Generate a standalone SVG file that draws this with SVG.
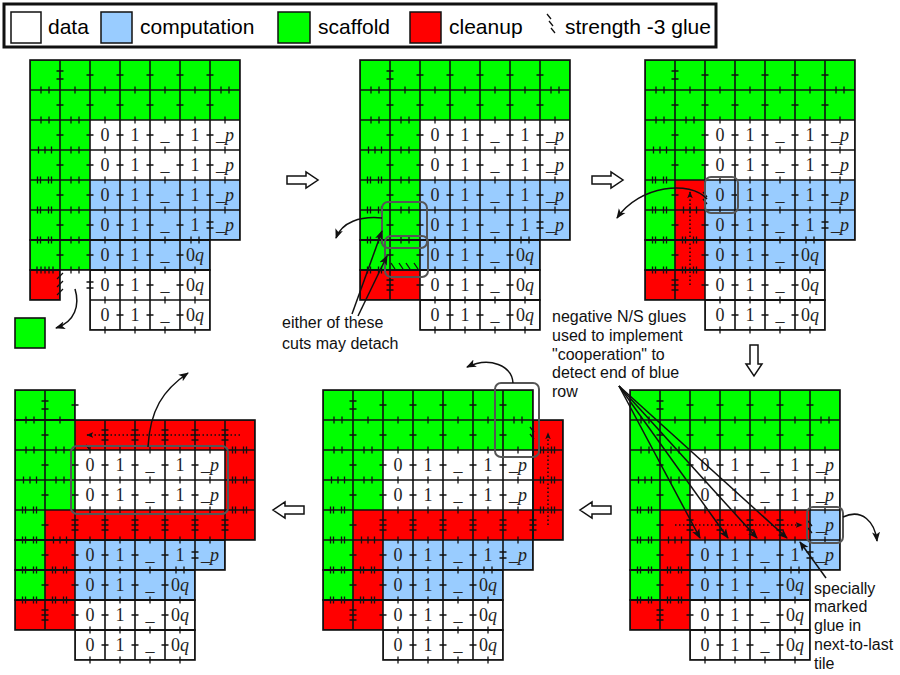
<svg xmlns="http://www.w3.org/2000/svg" width="900" height="675" viewBox="0 0 900 675">
<style>
.g{fill:#00ff00}.b{fill:#99ccff}.r{fill:#ff0000}.w{fill:#ffffff}
.u{fill:url(#gp);stroke:#111;stroke-width:1.6}
.tk{fill:none;stroke:#111;stroke-width:1.3}
.lab{font-family:"Liberation Serif","DejaVu Serif",serif;font-size:18px;text-anchor:middle;fill:#222}
.it{font-style:italic}
.cap{font-family:"Liberation Sans",Arial,sans-serif;font-size:16px;fill:#111}
.leg{font-family:"Liberation Sans",Arial,sans-serif;font-size:21px;fill:#000}
.arr{fill:none;stroke:#111;stroke-width:1.5}
.dot{fill:none;stroke:#111;stroke-width:1.6;stroke-dasharray:1.5 2.5}
.sel{fill:none;stroke:#555;stroke-width:2}
.blk{fill:#fff;stroke:#111;stroke-width:1.5}
.sq{stroke:#111;stroke-width:1.5}
</style>
<defs>
<pattern id="gp" width="30" height="30" patternUnits="userSpaceOnUse"><path d="M0 0H30V30H0Z" fill="none" stroke="#111" stroke-width="1.6"/></pattern>
<marker id="ah" viewBox="0 0 10 10" refX="9" refY="5" markerWidth="10" markerHeight="10" markerUnits="userSpaceOnUse" orient="auto"><path d="M0 1L10 5L0 9L2.5 5Z" fill="#111"/></marker>
<marker id="ahs" viewBox="0 0 10 10" refX="9" refY="5" markerWidth="7" markerHeight="7" markerUnits="userSpaceOnUse" orient="auto"><path d="M0 1L10 5L0 9L2.5 5Z" fill="#111"/></marker>
<path id="blockArrow" d="M0 -4H19V-8L31 0L19 8V4H0Z"/>
<path id="tkTL" d="M26.5 11h7M26.5 19h7M26.5 45h7M11 26.5v7M19 26.5v7M45 26.5v7M11 56.5v7M19 56.5v7M41 56.5v7M49 56.5v7"/>
<path id="tkTR" d="M56.5 15h7M86.5 15h7M116.5 15h7M146.5 15h7M176.5 15h7M56.5 45h7M86.5 45h7M116.5 45h7M146.5 45h7M176.5 45h7M75 26.5v7M105 26.5v7M135 26.5v7M165 26.5v7M191 26.5v7M199 26.5v7"/>
<path id="tkD" d="M75 56.5v7M105 56.5v7M135 56.5v7M165 56.5v7M195 56.5v7M75 86.5v7M105 86.5v7M135 86.5v7M165 86.5v7M195 86.5v7M75 116.5v7M105 116.5v7M135 116.5v7M165 116.5v7M195 116.5v7M75 146.5v7M105 146.5v7M135 146.5v7M165 146.5v7M195 146.5v7M75 176.5v7M105 176.5v7M135 176.5v7M161 176.5v7M169 176.5v7M75 206.5v7M105 206.5v7M135 206.5v7M165 206.5v7M75 236.5v7M105 236.5v7M135 236.5v7M165 236.5v7M75 266.5v7M105 266.5v7M135 266.5v7M165 266.5v7M56.5 75h7M86.5 75h7M116.5 75h7M146.5 75h7M176.5 75h7M56.5 105h7M86.5 105h7M116.5 105h7M146.5 105h7M176.5 105h7M56.5 165h7M86.5 165h7M116.5 165h7M146.5 165h7M176.5 162h7M176.5 168h7M56.5 195h7M86.5 195h7M116.5 195h7M146.5 195h7M86.5 225h7M116.5 225h7M146.5 225h7M86.5 255h7M116.5 255h7M146.5 255h7"/>
<path id="tkL" d="M26.5 75h7M26.5 105h7M26.5 135h7M26.5 165h7M26.5 195h7M8.5 86.5v7M15 86.5v7M21.5 86.5v7M7.5 116.5v7M10.5 116.5v7M18.5 116.5v7M21.5 116.5v7M7.5 146.5v7M10.5 146.5v7M18.5 146.5v7M21.5 146.5v7M7.5 176.5v7M10.5 176.5v7M18.5 176.5v7M21.5 176.5v7M41 86.5v7M49 86.5v7"/>
<path id="tkRed" d="M38.5 146.5v7M45 146.5v7M51.5 146.5v7M37.5 176.5v7M40.5 176.5v7M48.5 176.5v7M51.5 176.5v7M37.5 206.5v7M40.5 206.5v7M48.5 206.5v7M51.5 206.5v7"/>
<path id="tkB" d="M7.5 206.5v7M10.5 206.5v7M18.5 206.5v7M21.5 206.5v7M26.5 220h7M26.5 225h7M26.5 230h7M56.5 225h7"/>
<path id="tkR4s" d="M56.5 135h7M86.5 135h7M116.5 135h7M146.5 135h7M176.5 135h7"/>
<path id="tkR4t" d="M56.5 130h7M56.5 135h7M56.5 140h7M86.5 130h7M86.5 135h7M86.5 140h7M116.5 130h7M116.5 135h7M116.5 140h7M146.5 130h7M146.5 135h7M146.5 140h7"/>
<path id="tkC7" d="M176.5 130h7M176.5 135h7M176.5 140h7M206.5 130h7M206.5 135h7M206.5 140h7M217.5 56.5v7M220.5 56.5v7M228.5 56.5v7M231.5 56.5v7M217.5 86.5v7M220.5 86.5v7M228.5 86.5v7M231.5 86.5v7M217.5 116.5v7M220.5 116.5v7M228.5 116.5v7M231.5 116.5v7"/>
</defs>

<g id="legend">
<rect x="4" y="4" width="712" height="43" fill="#fff" stroke="#111" stroke-width="3"/>
<rect class="w sq" x="11" y="12" width="30" height="31"/>
<text class="leg" x="48" y="34">data</text>
<rect class="b sq" x="101" y="12" width="31" height="31"/>
<text class="leg" x="140" y="34">computation</text>
<rect class="g sq" x="278" y="12" width="32" height="31"/>
<text class="leg" x="318" y="34">scaffold</text>
<rect class="r sq" x="410" y="12" width="31" height="31"/>
<text class="leg" x="449" y="34">cleanup</text>
<path class="tk" d="M547 14l4 5M549 21l4 5M551 28l4 5"/>
<text class="leg" x="565" y="34">strength -3 glue</text>
</g>

<g id="panel1" transform="translate(30,60)">
<rect class="g" x="0" y="0" width="210" height="60"/>
<rect class="g" x="0" y="60" width="60" height="150"/>
<rect class="w" x="60" y="60" width="150" height="60"/>
<rect class="b" x="60" y="120" width="150" height="60"/>
<rect class="b" x="60" y="180" width="120" height="30"/>
<rect class="r" x="0" y="210" width="30" height="30"/>
<rect class="w" x="60" y="210" width="120" height="60"/>
<rect class="u" x="0" y="0" width="210" height="180"/>
<rect class="u" x="0" y="180" width="180" height="30"/>
<rect class="u" x="0" y="210" width="30" height="30"/>
<rect class="u" x="60" y="210" width="120" height="60"/>
<g class="tk"><use href="#tkTL"/><use href="#tkTR"/><use href="#tkD"/><use href="#tkL"/><use href="#tkR4s"/>
<path d="M7 206.5v7M11 206.5v7M15 206.5v7M19 206.5v7M23 206.5v7M41 116.5v7M49 116.5v7M41 146.5v7M49 146.5v7M41 176.5v7M49 176.5v7M41 206.5v7M49 206.5v7M56.5 222h7M56.5 228h7M27 219l6-6M27 227l6-6M27 235l6-6"/></g>
<g class="lab">
<text x="75" y="81">0</text><text x="105" y="81">1</text><text x="135" y="81">_</text><text x="165" y="81">1</text><text x="195" y="81">_<tspan class="it">p</tspan></text>
<text x="75" y="111">0</text><text x="105" y="111">1</text><text x="135" y="111">_</text><text x="165" y="111">1</text><text x="195" y="111">_<tspan class="it">p</tspan></text>
<text x="75" y="141">0</text><text x="105" y="141">1</text><text x="135" y="141">_</text><text x="165" y="141">1</text><text x="195" y="141">_<tspan class="it">p</tspan></text>
<text x="75" y="171">0</text><text x="105" y="171">1</text><text x="135" y="171">_</text><text x="165" y="171">1</text><text x="195" y="171">_<tspan class="it">p</tspan></text>
<text x="75" y="201">0</text><text x="105" y="201">1</text><text x="135" y="201">_</text><text x="165" y="201">0<tspan class="it">q</tspan></text>
<text x="75" y="231">0</text><text x="105" y="231">1</text><text x="135" y="231">_</text><text x="165" y="231">0<tspan class="it">q</tspan></text>
<text x="75" y="261">0</text><text x="105" y="261">1</text><text x="135" y="261">_</text><text x="165" y="261">0<tspan class="it">q</tspan></text>
</g>
</g>

<g id="detached-tile"><rect class="g" x="15" y="318" width="30" height="30" stroke="#111" stroke-width="1.6"/></g>

<g id="panel2" transform="translate(360,60)">
<rect class="g" x="0" y="0" width="210" height="60"/>
<rect class="g" x="0" y="60" width="60" height="150"/>
<rect class="w" x="60" y="60" width="150" height="60"/>
<rect class="b" x="60" y="120" width="150" height="60"/>
<rect class="b" x="60" y="180" width="120" height="30"/>
<rect class="r" x="0" y="210" width="60" height="30"/>
<rect class="w" x="60" y="210" width="120" height="60"/>
<rect class="u" x="0" y="0" width="210" height="180"/>
<rect class="u" x="0" y="180" width="180" height="30"/>
<rect class="u" x="0" y="210" width="180" height="30"/>
<rect class="u" x="60" y="240" width="120" height="30"/>
<g class="tk"><use href="#tkTL"/><use href="#tkTR"/><use href="#tkD"/><use href="#tkL"/><use href="#tkR4s"/><use href="#tkB"/>
<path d="M41 116.5v7M49 116.5v7M41 146.5v7M49 146.5v7M41 176.5v7M49 176.5v7M31 203l4 6M39 203l4 6M46 203l4 6M54 203l4 6"/></g>
<g class="lab">
<text x="75" y="81">0</text><text x="105" y="81">1</text><text x="135" y="81">_</text><text x="165" y="81">1</text><text x="195" y="81">_<tspan class="it">p</tspan></text>
<text x="75" y="111">0</text><text x="105" y="111">1</text><text x="135" y="111">_</text><text x="165" y="111">1</text><text x="195" y="111">_<tspan class="it">p</tspan></text>
<text x="75" y="141">0</text><text x="105" y="141">1</text><text x="135" y="141">_</text><text x="165" y="141">1</text><text x="195" y="141">_<tspan class="it">p</tspan></text>
<text x="75" y="171">0</text><text x="105" y="171">1</text><text x="135" y="171">_</text><text x="165" y="171">1</text><text x="195" y="171">_<tspan class="it">p</tspan></text>
<text x="75" y="201">0</text><text x="105" y="201">1</text><text x="135" y="201">_</text><text x="165" y="201">0<tspan class="it">q</tspan></text>
<text x="75" y="231">0</text><text x="105" y="231">1</text><text x="135" y="231">_</text><text x="165" y="231">0<tspan class="it">q</tspan></text>
<text x="75" y="261">0</text><text x="105" y="261">1</text><text x="135" y="261">_</text><text x="165" y="261">0<tspan class="it">q</tspan></text>
</g>
</g>

<g id="panel3" transform="translate(645,60)">
<rect class="g" x="0" y="0" width="210" height="60"/>
<rect class="g" x="0" y="60" width="60" height="60"/>
<rect class="g" x="0" y="120" width="30" height="90"/>
<rect class="r" x="30" y="120" width="30" height="90"/>
<rect class="r" x="0" y="210" width="60" height="30"/>
<rect class="w" x="60" y="60" width="150" height="60"/>
<rect class="b" x="60" y="120" width="150" height="60"/>
<rect class="b" x="60" y="180" width="120" height="30"/>
<rect class="w" x="60" y="210" width="120" height="60"/>
<rect class="u" x="0" y="0" width="210" height="180"/>
<rect class="u" x="0" y="180" width="180" height="30"/>
<rect class="u" x="0" y="210" width="180" height="30"/>
<rect class="u" x="60" y="240" width="120" height="30"/>
<g class="tk"><use href="#tkTL"/><use href="#tkTR"/><use href="#tkD"/><use href="#tkL"/><use href="#tkRed"/><use href="#tkB"/>
<path d="M86.5 135h7M116.5 135h7M146.5 135h7M176.5 135h7M58 132l4 5M58 139l4 5"/></g>
<g class="lab">
<text x="75" y="81">0</text><text x="105" y="81">1</text><text x="135" y="81">_</text><text x="165" y="81">1</text><text x="195" y="81">_<tspan class="it">p</tspan></text>
<text x="75" y="111">0</text><text x="105" y="111">1</text><text x="135" y="111">_</text><text x="165" y="111">1</text><text x="195" y="111">_<tspan class="it">p</tspan></text>
<text x="75" y="141">0</text><text x="105" y="141">1</text><text x="135" y="141">_</text><text x="165" y="141">1</text><text x="195" y="141">_<tspan class="it">p</tspan></text>
<text x="75" y="171">0</text><text x="105" y="171">1</text><text x="135" y="171">_</text><text x="165" y="171">1</text><text x="195" y="171">_<tspan class="it">p</tspan></text>
<text x="75" y="201">0</text><text x="105" y="201">1</text><text x="135" y="201">_</text><text x="165" y="201">0<tspan class="it">q</tspan></text>
<text x="75" y="231">0</text><text x="105" y="231">1</text><text x="135" y="231">_</text><text x="165" y="231">0<tspan class="it">q</tspan></text>
<text x="75" y="261">0</text><text x="105" y="261">1</text><text x="135" y="261">_</text><text x="165" y="261">0<tspan class="it">q</tspan></text>
</g>
</g>

<g id="panel4" transform="translate(630,390)">
<rect class="g" x="0" y="0" width="210" height="60"/>
<rect class="g" x="0" y="60" width="60" height="60"/>
<rect class="g" x="0" y="120" width="30" height="90"/>
<rect class="r" x="30" y="120" width="150" height="30"/>
<rect class="b" x="180" y="120" width="30" height="30"/>
<rect class="r" x="30" y="150" width="30" height="60"/>
<rect class="r" x="0" y="210" width="60" height="30"/>
<rect class="w" x="60" y="60" width="150" height="60"/>
<rect class="b" x="60" y="150" width="150" height="30"/>
<rect class="b" x="60" y="180" width="120" height="30"/>
<rect class="w" x="60" y="210" width="120" height="60"/>
<rect class="u" x="0" y="0" width="210" height="180"/>
<rect class="u" x="0" y="180" width="180" height="30"/>
<rect class="u" x="0" y="210" width="180" height="30"/>
<rect class="u" x="60" y="240" width="120" height="30"/>
<g class="tk"><use href="#tkTL"/><use href="#tkTR"/><use href="#tkD"/><use href="#tkL"/><use href="#tkRed"/><use href="#tkB"/><use href="#tkR4t"/>
<path d="M178 131l4 5M178 138l4 5"/></g>
<g class="lab">
<text x="75" y="81">0</text><text x="105" y="81">1</text><text x="135" y="81">_</text><text x="165" y="81">1</text><text x="195" y="81">_<tspan class="it">p</tspan></text>
<text x="75" y="111">0</text><text x="105" y="111">1</text><text x="135" y="111">_</text><text x="165" y="111">1</text><text x="195" y="111">_<tspan class="it">p</tspan></text>
<text x="195" y="141">_<tspan class="it">p</tspan></text>
<text x="75" y="171">0</text><text x="105" y="171">1</text><text x="135" y="171">_</text><text x="165" y="171">1</text><text x="195" y="171">_<tspan class="it">p</tspan></text>
<text x="75" y="201">0</text><text x="105" y="201">1</text><text x="135" y="201">_</text><text x="165" y="201">0<tspan class="it">q</tspan></text>
<text x="75" y="231">0</text><text x="105" y="231">1</text><text x="135" y="231">_</text><text x="165" y="231">0<tspan class="it">q</tspan></text>
<text x="75" y="261">0</text><text x="105" y="261">1</text><text x="135" y="261">_</text><text x="165" y="261">0<tspan class="it">q</tspan></text>
</g>
</g>

<g id="panel5" transform="translate(323,390)">
<rect class="g" x="0" y="0" width="210" height="60"/>
<rect class="r" x="210" y="30" width="30" height="120"/>
<rect class="g" x="0" y="60" width="60" height="60"/>
<rect class="g" x="0" y="120" width="30" height="90"/>
<rect class="r" x="30" y="120" width="180" height="30"/>
<rect class="r" x="30" y="150" width="30" height="60"/>
<rect class="r" x="0" y="210" width="60" height="30"/>
<rect class="w" x="60" y="60" width="150" height="60"/>
<rect class="b" x="60" y="150" width="150" height="30"/>
<rect class="b" x="60" y="180" width="120" height="30"/>
<rect class="w" x="60" y="210" width="120" height="60"/>
<rect class="u" x="0" y="0" width="210" height="180"/>
<rect class="u" x="210" y="30" width="30" height="120"/>
<rect class="u" x="0" y="180" width="180" height="30"/>
<rect class="u" x="0" y="210" width="180" height="30"/>
<rect class="u" x="60" y="240" width="120" height="30"/>
<g class="tk"><use href="#tkTL"/><use href="#tkTR"/><use href="#tkD"/><use href="#tkL"/><use href="#tkRed"/><use href="#tkB"/><use href="#tkR4t"/><use href="#tkC7"/>
<path d="M207 37l4 5M207 44l4 5"/></g>
<g class="lab">
<text x="75" y="81">0</text><text x="105" y="81">1</text><text x="135" y="81">_</text><text x="165" y="81">1</text><text x="195" y="81">_<tspan class="it">p</tspan></text>
<text x="75" y="111">0</text><text x="105" y="111">1</text><text x="135" y="111">_</text><text x="165" y="111">1</text><text x="195" y="111">_<tspan class="it">p</tspan></text>
<text x="75" y="171">0</text><text x="105" y="171">1</text><text x="135" y="171">_</text><text x="165" y="171">1</text><text x="195" y="171">_<tspan class="it">p</tspan></text>
<text x="75" y="201">0</text><text x="105" y="201">1</text><text x="135" y="201">_</text><text x="165" y="201">0<tspan class="it">q</tspan></text>
<text x="75" y="231">0</text><text x="105" y="231">1</text><text x="135" y="231">_</text><text x="165" y="231">0<tspan class="it">q</tspan></text>
<text x="75" y="261">0</text><text x="105" y="261">1</text><text x="135" y="261">_</text><text x="165" y="261">0<tspan class="it">q</tspan></text>
</g>
</g>

<g id="panel6" transform="translate(15,390)">
<rect class="g" x="0" y="0" width="60" height="120"/>
<rect class="r" x="60" y="30" width="180" height="30"/>
<rect class="r" x="210" y="60" width="30" height="90"/>
<rect class="g" x="0" y="120" width="30" height="90"/>
<rect class="r" x="30" y="120" width="180" height="30"/>
<rect class="r" x="30" y="150" width="30" height="60"/>
<rect class="r" x="0" y="210" width="60" height="30"/>
<rect class="w" x="60" y="60" width="150" height="60"/>
<rect class="b" x="60" y="150" width="150" height="30"/>
<rect class="b" x="60" y="180" width="120" height="30"/>
<rect class="w" x="60" y="210" width="120" height="60"/>
<rect class="u" x="0" y="0" width="60" height="30"/>
<rect class="u" x="0" y="30" width="240" height="120"/>
<rect class="u" x="0" y="150" width="210" height="30"/>
<rect class="u" x="0" y="180" width="180" height="30"/>
<rect class="u" x="0" y="210" width="180" height="30"/>
<rect class="u" x="60" y="240" width="120" height="30"/>
<g class="tk"><use href="#tkTL"/><use href="#tkD"/><use href="#tkL"/><use href="#tkRed"/><use href="#tkB"/><use href="#tkR4t"/><use href="#tkC7"/>
<path d="M56.5 15h7M86.5 40h7M86.5 45h7M86.5 50h7M116.5 40h7M116.5 45h7M116.5 50h7M146.5 40h7M146.5 45h7M146.5 50h7M176.5 40h7M176.5 45h7M176.5 50h7M206.5 40h7M206.5 45h7M206.5 50h7M71 55l4 5"/></g>
<g class="lab">
<text x="75" y="81">0</text><text x="105" y="81">1</text><text x="135" y="81">_</text><text x="165" y="81">1</text><text x="195" y="81">_<tspan class="it">p</tspan></text>
<text x="75" y="111">0</text><text x="105" y="111">1</text><text x="135" y="111">_</text><text x="165" y="111">1</text><text x="195" y="111">_<tspan class="it">p</tspan></text>
<text x="75" y="171">0</text><text x="105" y="171">1</text><text x="135" y="171">_</text><text x="165" y="171">1</text><text x="195" y="171">_<tspan class="it">p</tspan></text>
<text x="75" y="201">0</text><text x="105" y="201">1</text><text x="135" y="201">_</text><text x="165" y="201">0<tspan class="it">q</tspan></text>
<text x="75" y="231">0</text><text x="105" y="231">1</text><text x="135" y="231">_</text><text x="165" y="231">0<tspan class="it">q</tspan></text>
<text x="75" y="261">0</text><text x="105" y="261">1</text><text x="135" y="261">_</text><text x="165" y="261">0<tspan class="it">q</tspan></text>
</g>
</g>

<g id="connectors">
<use href="#blockArrow" class="blk" transform="translate(287,180)"/>
<use href="#blockArrow" class="blk" transform="translate(592,180)"/>
<use href="#blockArrow" class="blk" transform="translate(754,345) rotate(90)"/>
<use href="#blockArrow" class="blk" transform="translate(611,510) rotate(180)"/>
<use href="#blockArrow" class="blk" transform="translate(304,510) rotate(180)"/>
<rect class="sel" x="382" y="202" width="45" height="46" rx="6"/>
<rect class="sel" x="385" y="236" width="43" height="41" rx="6"/>
<rect class="sel" x="705" y="177" width="33" height="36" rx="6"/>
<rect class="sel" x="807" y="507" width="36" height="36" rx="6"/>
<rect class="sel" x="495" y="383" width="44" height="74" rx="6"/>
<rect class="sel" x="71" y="446" width="157" height="68" rx="6"/>
<path class="arr" d="M75 289C80 305 75 322 56 328" marker-end="url(#ah)"/>
<path class="arr" d="M382 218C360 216 342 222 336 238" marker-end="url(#ah)"/>
<path class="arr" d="M707 199C690 180 640 185 617 218" marker-end="url(#ah)"/>
<path class="arr" d="M843 517C862 508 875 522 877 541" marker-end="url(#ah)"/>
<path class="arr" d="M513 383C512 366 490 356 467 367" marker-end="url(#ah)"/>
<path class="arr" d="M148 447C150 410 163 390 188 373" marker-end="url(#ah)"/>
<path class="arr" d="M352 314L382 231" marker-end="url(#ah)"/>
<path class="arr" d="M358 316L387 256" marker-end="url(#ah)"/>
<path class="arr" d="M619 386L700 538" marker-end="url(#ah)"/>
<path class="arr" d="M619 386L728 538" marker-end="url(#ah)"/>
<path class="arr" d="M619 386L757 538" marker-end="url(#ah)"/>
<path class="arr" d="M619 386L787 538" marker-end="url(#ah)"/>
<path class="arr" d="M826 578L800 542" marker-end="url(#ah)"/>
<path class="dot" d="M690 285V192" marker-end="url(#ahs)"/>
<path class="dot" d="M675 525H802" marker-end="url(#ahs)"/>
<path class="dot" d="M548 525V433" marker-end="url(#ahs)"/>
<path class="dot" d="M240 435H87" marker-end="url(#ahs)"/>
</g>

<g id="note-cuts" class="cap">
<text x="282" y="328">either of these</text>
<text x="282" y="349">cuts may detach</text>
</g>
<g id="note-negative" class="cap">
<text x="552" y="322">negative N/S glues</text>
<text x="552" y="341">used to implement</text>
<text x="552" y="360">"cooperation" to</text>
<text x="552" y="378">detect end of blue</text>
<text x="552" y="397">row</text>
</g>
<g id="note-special" class="cap">
<text x="814" y="594">specially</text>
<text x="814" y="612">marked</text>
<text x="814" y="631">glue in</text>
<text x="814" y="650">next-to-last</text>
<text x="814" y="669">tile</text>
</g>
</svg>
